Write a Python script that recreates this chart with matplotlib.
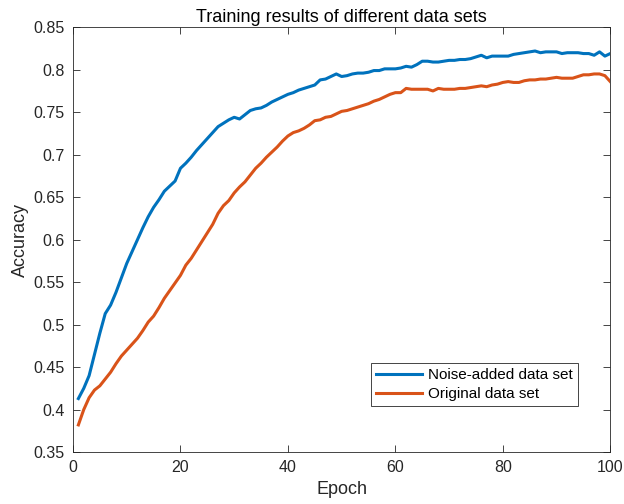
import matplotlib
matplotlib.use("Agg")
import matplotlib.pyplot as plt

epochs = list(range(1, 101))

noise_added = [
    0.413, 0.425, 0.440, 0.465, 0.490, 0.513, 0.523, 0.538, 0.555, 0.572,
    0.586, 0.600, 0.614, 0.627, 0.638, 0.647, 0.657, 0.663, 0.669, 0.684,
    0.690, 0.697, 0.705, 0.712, 0.719, 0.726, 0.733, 0.737, 0.741, 0.744,
    0.742, 0.747, 0.752, 0.754, 0.755, 0.758, 0.762, 0.765, 0.768, 0.771,
    0.773, 0.776, 0.778, 0.780, 0.782, 0.788, 0.789, 0.792, 0.795, 0.792,
    0.793, 0.795, 0.796, 0.796, 0.797, 0.799, 0.799, 0.801, 0.801, 0.801,
    0.802, 0.804, 0.803, 0.806, 0.810, 0.810, 0.809, 0.809, 0.810, 0.811,
    0.811, 0.812, 0.812, 0.813, 0.815, 0.817, 0.814, 0.816, 0.816, 0.816,
    0.816, 0.818, 0.819, 0.820, 0.821, 0.822, 0.820, 0.821, 0.821, 0.821,
    0.819, 0.820, 0.820, 0.820, 0.819, 0.819, 0.817, 0.821, 0.816, 0.819,
]

original = [
    0.382, 0.400, 0.414, 0.423, 0.428, 0.436, 0.444, 0.454, 0.463, 0.470,
    0.477, 0.484, 0.493, 0.503, 0.510, 0.520, 0.531, 0.540, 0.549, 0.558,
    0.570, 0.578, 0.588, 0.598, 0.608, 0.618, 0.631, 0.640, 0.646, 0.655,
    0.662, 0.668, 0.676, 0.684, 0.690, 0.697, 0.703, 0.709, 0.716, 0.722,
    0.726, 0.728, 0.731, 0.735, 0.740, 0.741, 0.744, 0.745, 0.748, 0.751,
    0.752, 0.754, 0.756, 0.758, 0.760, 0.763, 0.765, 0.768, 0.771, 0.773,
    0.773, 0.778, 0.777, 0.777, 0.777, 0.777, 0.775, 0.778, 0.777, 0.777,
    0.777, 0.778, 0.778, 0.779, 0.780, 0.781, 0.780, 0.782, 0.783, 0.785,
    0.786, 0.785, 0.785, 0.787, 0.788, 0.788, 0.789, 0.789, 0.790, 0.791,
    0.790, 0.790, 0.790, 0.792, 0.794, 0.794, 0.795, 0.795, 0.793, 0.786,
]

x_ticks = [0, 20, 40, 60, 80, 100]
y_ticks = [0.35, 0.4, 0.45, 0.5, 0.55, 0.6, 0.65, 0.7, 0.75, 0.8, 0.85]
y_labels = ["0.35", "0.4", "0.45", "0.5", "0.55", "0.6", "0.65", "0.7", "0.75", "0.8", "0.85"]

plt.rcParams["font.family"] = ["Liberation Sans", "DejaVu Sans"]
grey = "#262626"

fig = plt.figure(figsize=(6.24, 5.04), dpi=100)
ax = fig.add_axes([0.117, 0.103, 0.861, 0.843])

ax.plot(epochs, noise_added, color="#0072BD", lw=2.2, label="Noise-added data set")
ax.plot(epochs, original, color="#D95319", lw=2.2, label="Original data set")

ax.set_xlim(0, 100)
ax.set_ylim(0.35, 0.85)
ax.set_xticks(x_ticks)
ax.set_yticks(y_ticks)
ax.set_yticklabels(y_labels)
ax.tick_params(direction="in", top=True, right=True, length=5, width=0.6,
               colors=grey, labelsize=11.5, labelcolor=grey, pad=6)
for s in ax.spines.values():
    s.set_color(grey)
    s.set_linewidth(0.6)

ax.set_xlabel("Epoch", fontsize=13, color=grey, labelpad=4)
ax.set_ylabel("Accuracy", fontsize=13, color=grey, labelpad=3)
ax.set_title("Training results of different data sets", fontsize=13, color="black", pad=4)

leg = ax.legend(loc="lower right", bbox_to_anchor=(0.94, 0.108), borderaxespad=0,
                fancybox=False, framealpha=1, edgecolor=grey, fontsize=11,
                handlelength=3.0, handletextpad=0.4, borderpad=0.35, labelspacing=0.3)
leg.get_frame().set_linewidth(0.6)

plt.savefig("out.png", dpi=100)
